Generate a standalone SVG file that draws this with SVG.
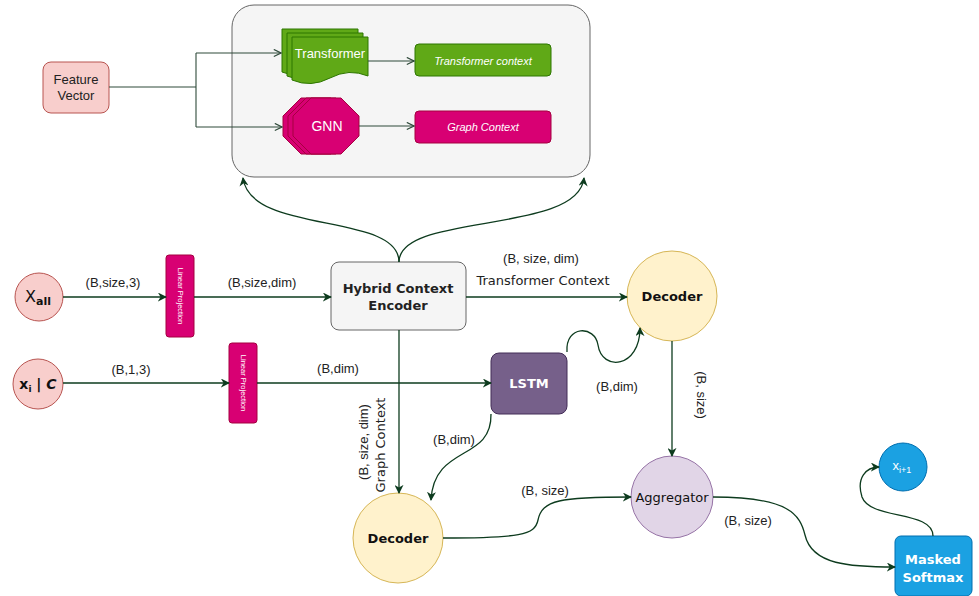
<svg xmlns="http://www.w3.org/2000/svg" width="979" height="596" viewBox="0 0 979 596">
<style>
.lbl{font-family:"Liberation Sans",Arial,sans-serif;font-size:13px;fill:#222;text-anchor:middle}
.cm{font-family:"Comic Sans MS","DejaVu Sans",sans-serif;text-anchor:middle}
.edge{fill:none;stroke:#0d3b1e;stroke-width:1.3}
.tedge{fill:none;stroke:#2f4a3a;stroke-width:1.1}
</style>
<defs>
<marker id="blk" viewBox="0 0 10 10" refX="9" refY="5" markerWidth="9" markerHeight="9" markerUnits="userSpaceOnUse" orient="auto">
<path d="M0,0 L10,5 L0,10 L3,5 Z" fill="#0d3b1e"/>
</marker>
<marker id="opn" viewBox="0 0 10 10" refX="9" refY="5" markerWidth="9" markerHeight="9" markerUnits="userSpaceOnUse" orient="auto">
<path d="M1,1 L9,5 L1,9" fill="none" stroke="#2f4a3a" stroke-width="1.3"/>
</marker>
</defs>

<g id="container">
<rect x="232" y="5" width="358" height="172" rx="22" fill="#f5f5f5" stroke="#666"/>
</g>

<g id="feature-vector">
<rect x="43" y="62" width="66" height="51" rx="8" fill="#f8cecc" stroke="#b85450"/>
<text class="lbl" x="76" y="84">Feature</text>
<text class="lbl" x="76" y="100">Vector</text>
</g>

<g id="transformer">
<path d="M282,29 H358 V68 Q339,60 320,70 Q301,80 282,72 Z" fill="#60a917" stroke="#2d7600"/>
<path d="M287,33 H363 V72 Q344,64 325,74 Q306,84 287,76 Z" fill="#60a917" stroke="#2d7600"/>
<path d="M292,37 H368 V76 Q349,68 330,78 Q311,88 292,80 Z" fill="#60a917" stroke="#2d7600"/>
<text class="lbl" x="330" y="58" style="fill:#fff">Transformer</text>
</g>

<g id="transformer-context">
<rect x="415" y="44" width="136" height="32" rx="4" fill="#60a917" stroke="#2d7600"/>
<text class="lbl" x="483" y="65" style="fill:#fff;font-style:italic;font-size:11px">Transformer context</text>
</g>

<g id="gnn">
<polygon points="301,98 331,98 349,116 349,136 331,154 301,154 283,136 283,116" fill="#d80073" stroke="#a50040"/>
<polygon points="306,98 336,98 354,116 354,136 336,154 306,154 288,136 288,116" fill="#d80073" stroke="#a50040"/>
<polygon points="311,98 341,98 359,116 359,136 341,154 311,154 293,136 293,116" fill="#d80073" stroke="#a50040"/>
<text class="lbl" x="327" y="131" style="fill:#fff;font-size:14px">GNN</text>
</g>

<g id="graph-context">
<rect x="415" y="111" width="136" height="32" rx="4" fill="#d80073" stroke="#a50040"/>
<text class="lbl" x="483" y="131" style="fill:#fff;font-style:italic;font-size:11px">Graph Context</text>
</g>

<g id="x-all">
<circle cx="39" cy="297" r="24" fill="#f8cecc" stroke="#b85450"/>
<text class="cm" x="38" y="302" style="font-size:16px;fill:#111">X<tspan style="font-size:11px;font-weight:bold" dy="3">all</tspan></text>
</g>

<g id="x-i-c">
<circle cx="38" cy="384" r="25" fill="#f8cecc" stroke="#b85450"/>
<text class="cm" x="38" y="389" style="font-size:14px;font-weight:bold;fill:#111">x<tspan style="font-size:9px" dy="3">i</tspan><tspan dy="-3"> | </tspan><tspan style="font-style:italic">C</tspan></text>
</g>

<g id="linear-projection-1">
<rect x="166" y="255" width="28" height="82" rx="3" fill="#d80073" stroke="#a50040"/>
<text class="lbl" transform="translate(177.5,296) rotate(90)" style="fill:#fff;font-size:7.5px">Linear Projection</text>
</g>

<g id="linear-projection-2">
<rect x="229" y="343" width="28" height="80" rx="3" fill="#d80073" stroke="#a50040"/>
<text class="lbl" transform="translate(240.5,383) rotate(90)" style="fill:#fff;font-size:7.5px">Linear Projection</text>
</g>

<g id="hybrid-context-encoder">
<rect x="331" y="262" width="135" height="68" rx="8" fill="#f5f5f5" stroke="#666"/>
<text class="cm" x="398" y="293" style="font-size:13px;font-weight:bold;fill:#222">Hybrid Context</text>
<text class="cm" x="398" y="310" style="font-size:13px;font-weight:bold;fill:#222">Encoder</text>
</g>

<g id="lstm">
<rect x="491" y="353" width="76" height="61" rx="8" fill="#76608a" stroke="#432d57"/>
<text class="cm" x="529" y="388" style="font-size:13px;font-weight:bold;fill:#fff">LSTM</text>
</g>

<g id="decoder-top">
<circle cx="672" cy="296" r="45" fill="#fff2cc" stroke="#d6b656"/>
<text class="cm" x="672" y="301" style="font-size:13px;font-weight:bold;fill:#111">Decoder</text>
</g>

<g id="decoder-bottom">
<circle cx="398" cy="538" r="45" fill="#fff2cc" stroke="#d6b656"/>
<text class="cm" x="398" y="543" style="font-size:13px;font-weight:bold;fill:#111">Decoder</text>
</g>

<g id="aggregator">
<circle cx="672" cy="497" r="41" fill="#e1d5e7" stroke="#9673a6"/>
<text class="cm" x="672" y="502" style="font-size:13px;fill:#111">Aggregator</text>
</g>

<g id="masked-softmax">
<rect x="895" y="536" width="77" height="60" rx="6" fill="#1ba1e2" stroke="#006eaf"/>
<text class="cm" x="933" y="564" style="font-size:13px;font-weight:bold;fill:#fff">Masked</text>
<text class="cm" x="933" y="582" style="font-size:13px;font-weight:bold;fill:#fff">Softmax</text>
</g>

<g id="x-next">
<circle cx="903" cy="467" r="24" fill="#1ba1e2" stroke="#006eaf"/>
<text class="lbl" x="902" y="470" style="fill:#fff;font-size:13px">x<tspan style="font-size:9px" dy="3">i+1</tspan></text>
</g>

<g id="connectors">
<path class="tedge" d="M109,87 H196"/>
<path class="tedge" d="M196,53 V127"/>
<path class="tedge" d="M196,53 H281" marker-end="url(#opn)"/>
<path class="tedge" d="M196,127 H282" marker-end="url(#opn)"/>
<path class="tedge" d="M368,61 H414" marker-end="url(#opn)"/>
<path class="tedge" d="M359,126 H414" marker-end="url(#opn)"/>

<path class="edge" d="M399,262 C399,212 250,235 243,178" marker-end="url(#blk)"/>
<path class="edge" d="M399,262 C399,212 578,235 584,178" marker-end="url(#blk)"/>

<path class="edge" d="M63,297 H166" marker-end="url(#blk)"/>
<path class="edge" d="M194,297 H331" marker-end="url(#blk)"/>
<path class="edge" d="M63,383 H229" marker-end="url(#blk)"/>
<path class="edge" d="M257,383 H491" marker-end="url(#blk)"/>
<path class="edge" d="M466,297 H627" marker-end="url(#blk)"/>
<path class="edge" d="M567,352 C565,325 595,325 598,345 C602,372 640,368 640,328" marker-end="url(#blk)"/>
<path class="edge" d="M672,341 V456" marker-end="url(#blk)"/>
<path class="edge" d="M399,330 V493" marker-end="url(#blk)"/>
<path class="edge" d="M491,414 C492,462 434,444 431,500" marker-end="url(#blk)"/>
<path class="edge" d="M443,538 C520,538 535,535 538,520 C542,500 560,497 631,497" marker-end="url(#blk)"/>
<path class="edge" d="M713,497 C790,497 800,515 805,535 C812,565 850,567 895,567" marker-end="url(#blk)"/>
<path class="edge" d="M933,536 C933,510 870,520 862,497 C856,478 866,467 879,467" marker-end="url(#blk)"/>

<text class="lbl" x="113" y="287">(B,size,3)</text>
<text class="lbl" x="262" y="287">(B,size,dim)</text>
<text class="lbl" x="131" y="374">(B,1,3)</text>
<text class="lbl" x="338" y="373">(B,dim)</text>
<text class="lbl" x="541" y="263">(B, size, dim)</text>
<text class="cm" x="543" y="285" style="font-size:13px;fill:#222">Transformer Context</text>
<text class="lbl" x="617" y="391">(B,dim)</text>
<text class="lbl" transform="translate(697,395) rotate(90)">(B, size)</text>
<text class="lbl" transform="translate(368,442) rotate(-90)">(B, size, dim)</text>
<text class="cm" transform="translate(385,445) rotate(-90)" style="font-size:13px;fill:#222">Graph Context</text>
<text class="lbl" x="454" y="444">(B,dim)</text>
<text class="lbl" x="545" y="495">(B, size)</text>
<text class="lbl" x="748" y="525">(B, size)</text>
</g>
</svg>
